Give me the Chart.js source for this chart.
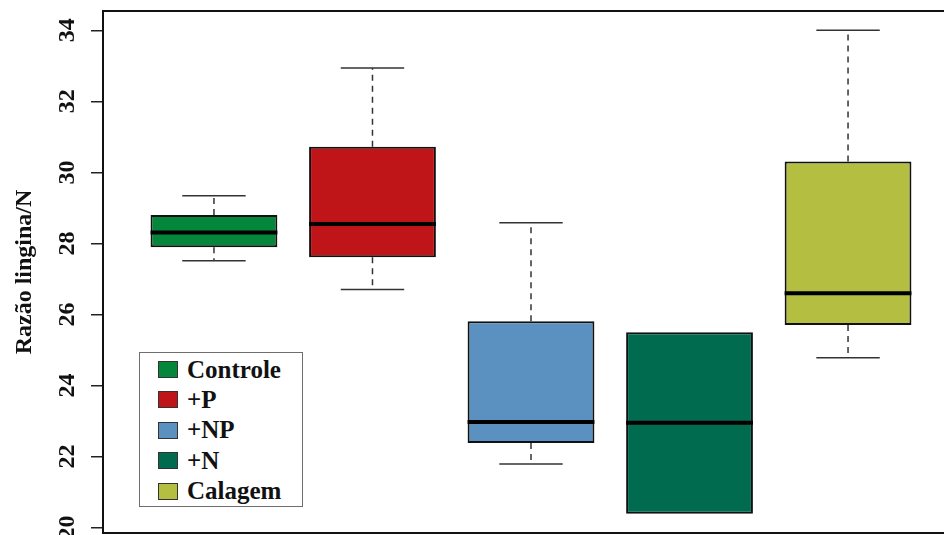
<!DOCTYPE html>
<html>
<head>
<meta charset="utf-8">
<script src="https://cdn.jsdelivr.net/npm/chart.js@4.4.1/dist/chart.umd.min.js"></script>
<style>
  html, body { margin: 0; padding: 0; background: #fff; overflow: hidden; width: 944px; height: 535px; }
  #wrap { position: relative; width: 960px; height: 535px; }
  #legend {
    position: absolute; left: 139px; top: 352px; width: 164px; height: 155px;
    border: 1.5px solid #6e6e6e; background: #fff; box-sizing: border-box;
    font: bold 25px "Liberation Serif", "Times New Roman", serif; color: #111;
  }
  .item { position: absolute; left: 18px; height: 30px; display: flex; align-items: center; white-space: nowrap; }
  .sw { width: 20px; height: 17px; border: 1px solid #333; box-sizing: border-box; margin-right: 9px; }
</style>
</head>
<body>
<div id="wrap">
  <canvas id="box" width="960" height="535"></canvas>
  <div id="legend"></div>
</div>
<script>
const CATEGORIES = ["Controle", "+P", "+NP", "+N", "Calagem"];
const WHISKER_LOW = [27.51, 26.70, 21.79, 20.39, 24.78];
const Q1 = [27.89, 27.61, 22.38, 20.39, 25.70];
const MEDIAN = [28.31, 28.55, 22.97, 22.95, 26.60];
const Q3 = [28.80, 30.72, 25.81, 25.50, 30.31];
const WHISKER_HIGH = [29.34, 32.94, 28.58, 25.50, 34.00];
const BOX_COLORS = ["#05873B", "#BF1518", "#5A91C1", "#016B50", "#B4BE40"];
const Y_TICKS = [20, 22, 24, 26, 28, 30, 32, 34];

const FONT = "'Liberation Serif', 'Times New Roman', serif";

// R-style axis range: data range padded by 4% each side
const lo = Math.min(...WHISKER_LOW);
const hi = Math.max(...WHISKER_HIGH);
const yPad = (hi - lo) * 0.04;

const datasets = [{
  type: "bar",
  data: CATEGORIES.map((c, i) => ({ x: i + 1, y: [Q1[i], Q3[i]] })),
  backgroundColor: BOX_COLORS,
  borderColor: "#111",
  borderWidth: 2,
  borderSkipped: false,
  barPercentage: 0.8,
  categoryPercentage: 1,
  order: 2,
}];

function seg(points, opts) {
  datasets.push(Object.assign({
    type: "line",
    data: points,
    pointRadius: 0,
    fill: false,
    tension: 0,
    borderColor: "#333",
    borderWidth: 1.5,
    borderCapStyle: "butt",
    order: 3,
  }, opts));
}

CATEGORIES.forEach((c, i) => {
  const x = i + 1;
  if (WHISKER_HIGH[i] > Q3[i]) {
    seg([{ x, y: Q3[i] }, { x, y: WHISKER_HIGH[i] }], { borderDash: [6, 5] });
    seg([{ x: x - 0.2, y: WHISKER_HIGH[i] }, { x: x + 0.2, y: WHISKER_HIGH[i] }]);
  }
  if (WHISKER_LOW[i] < Q1[i]) {
    seg([{ x, y: Q1[i] }, { x, y: WHISKER_LOW[i] }], { borderDash: [6, 5] });
    seg([{ x: x - 0.2, y: WHISKER_LOW[i] }, { x: x + 0.2, y: WHISKER_LOW[i] }]);
  }
  seg([{ x: x - 0.4, y: MEDIAN[i] }, { x: x + 0.4, y: MEDIAN[i] }], { borderColor: "#000", borderWidth: 4, order: 1 });
});

const framePlugin = {
  id: "frame",
  afterDraw(chart) {
    const { ctx, chartArea: a } = chart;
    ctx.save();
    ctx.strokeStyle = "#111";
    ctx.lineWidth = 2;
    ctx.strokeRect(a.left, a.top, a.right - a.left, a.bottom - a.top);
    ctx.restore();
  },
};

new Chart(document.getElementById("box"), {
  type: "bar",
  data: { datasets },
  plugins: [framePlugin],
  options: {
    responsive: false,
    animation: false,
    layout: { padding: { top: 11, right: 1, bottom: 2, left: 0 } },
    plugins: { legend: { display: false }, tooltip: { enabled: false } },
    scales: {
      x: {
        type: "linear",
        display: false,
        offset: false,
        min: 0.3,
        max: 5.7,
        afterBuildTicks: (s) => { s.ticks = CATEGORIES.map((c, i) => ({ value: i + 1 })); },
      },
      y: {
        min: lo - yPad,
        max: hi + yPad,
        afterBuildTicks: (s) => { s.ticks = Y_TICKS.map((v) => ({ value: v })); },
        afterFit: (s) => { s.width = 103; s.paddingTop = 0; s.paddingBottom = 0; },
        border: { display: false },
        grid: { drawOnChartArea: false, drawTicks: true, tickLength: 12, color: "#222", lineWidth: 1.5 },
        ticks: {
          minRotation: 90, maxRotation: 90, crossAlign: "center", padding: 11,
          autoSkip: false, color: "#111",
          font: { family: FONT, size: 24, weight: "bold" },
        },
        title: {
          display: true, text: "Razão lingina/N", color: "#111",
          font: { family: FONT, size: 24, weight: "bold" },
          padding: { top: 10, bottom: 0 },
        },
      },
    },
  },
});

const legend = document.getElementById("legend");
CATEGORIES.forEach((c, i) => {
  const row = document.createElement("div");
  row.className = "item";
  row.style.top = (1.5 + i * 30.4) + "px";
  const sw = document.createElement("span");
  sw.className = "sw";
  sw.style.background = BOX_COLORS[i];
  const label = document.createElement("span");
  label.textContent = c;
  row.appendChild(sw);
  row.appendChild(label);
  legend.appendChild(row);
});
</script>
</body>
</html>
